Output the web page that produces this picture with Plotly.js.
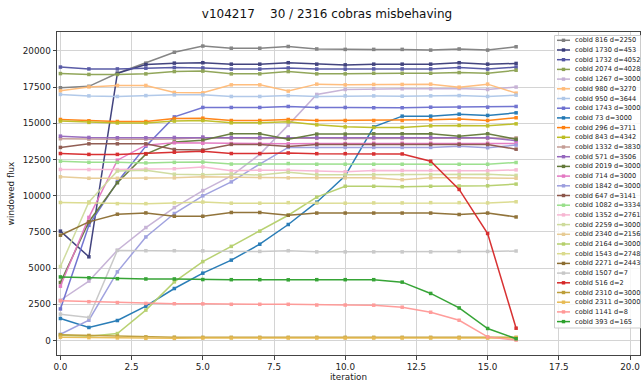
<!DOCTYPE html>
<html><head><meta charset="utf-8">
<script src="https://cdn.plot.ly/plotly-3.0.1.min.js"></script>
<style>body{margin:0;padding:0;background:#fff}#chart{width:643px;height:382px}</style>
</head><body><div id="chart"></div>
<script>
var iterations = [0,1,2,3,4,5,6,7,8,9,10,11,12,13,14,15,16];
var names = ["cobId 816 d=2250","cobId 1730 d=453","cobId 1732 d=4052","cobId 2074 d=4028","cobId 1267 d=3000","cobId 980 d=3270","cobId 950 d=3644","cobId 1743 d=3000","cobId 73 d=3000","cobId 296 d=3711","cobId 843 d=4342","cobId 1332 d=3830","cobId 571 d=3506","cobId 2019 d=3000","cobId 714 d=3000","cobId 1842 d=3000","cobId 647 d=3141","cobId 1082 d=3334","cobId 1352 d=2761","cobId 2259 d=3000","cobId 2340 d=2156","cobId 2164 d=3000","cobId 1543 d=2748","cobId 2271 d=2443","cobId 1507 d=7","cobId 516 d=2","cobId 2310 d=3000","cobId 2311 d=3000","cobId 1141 d=8","cobId 393 d=165"];
var colors = ["#7f7f7f","#393b79","#5254a3","#8ca252","#c5b0d5","#ffbb78","#aec7e8","#6b6ecf","#1f77b4","#ff7f0e","#bcbd22","#c49c94","#9467bd","#637939","#e377c2","#9c9ede","#8c564b","#98df8a","#f7b6d2","#cedb9c","#e7cb94","#b5cf6b","#dbdb8d","#8c6d31","#c7c7c7","#d62728","#bd9e39","#e7ba52","#ff9896","#2ca02c"];

var f816  = [17450,17550,18450,19150,19900,20330,20180,20180,20300,20130,20100,20100,20100,20050,20130,20050,20280];
var f1730 = [7550,5780,18450,19050,19150,19180,19080,19080,19180,19080,19030,19080,19080,19080,19180,19080,19130];
var f1732 = [18880,18750,18750,18800,18850,18820,18740,18740,18820,18740,18740,18750,18750,18750,18850,18740,18880];
var f2074 = [18430,18370,18370,18410,18570,18600,18410,18410,18570,18410,18410,18450,18450,18450,18500,18450,18660];
var f1267 = [2780,4100,6230,7800,9180,10350,11370,12850,14870,16990,17330,17380,17380,17380,17400,17330,17500];
var f980  = [17240,17510,17610,17610,17130,17100,17650,17650,17220,17700,17650,17680,17680,17700,17490,17700,17080];
var f950  = [16990,16890,16850,16910,16960,16960,16850,16850,16910,16850,16890,16890,16870,16890,16910,16850,16940];
var f1743 = [2180,7950,10950,13420,15440,16090,16090,16090,16160,16090,16090,16070,16070,16110,16110,16110,16160];
var f73   = [1520,900,1380,2370,3590,4650,5550,6650,8010,9550,11370,14750,15490,15490,15630,15540,15720];
var f296  = [15260,15170,15120,15120,15330,15350,15190,15190,15260,15190,15190,15190,15190,15240,15290,15190,15380];
var f843  = [15150,15060,15020,15020,15150,15190,15030,15030,15100,14890,14750,14710,14710,14820,14850,14820,14960];
var f1332 = [13930,13900,13900,13900,13920,14000,13950,13950,13980,13950,13950,13950,13950,13950,13950,13950,13990];
var f571  = [14110,14020,14000,14000,14020,14050,14000,14000,14050,14000,14000,14000,14000,14020,14020,14000,13800];
var f2019 = [4000,8200,10890,12870,13700,13830,14270,14270,13900,14250,14250,14270,14270,14270,14110,14270,13900];
var f714  = [3750,8500,12450,13490,13650,13620,13600,13600,13580,13600,13600,13620,13620,13620,13600,13620,13600];
var f1842 = [430,1400,4740,7150,8770,9990,10950,12180,13330,13330,13330,13330,13330,13330,13420,13310,13490];
var f647  = [13330,13580,13580,13580,13190,13150,13540,13540,13400,13540,13540,13540,13540,13540,13540,13540,13210];
var f1082 = [12380,12300,12300,12260,12300,12320,12180,12180,12220,12170,12170,12170,12170,12170,12170,12170,12290];
var f1352 = [11810,11800,11800,11840,11860,11980,11720,11760,11760,11700,11650,11740,11740,11740,11700,11720,11780];
var f2259 = [5110,9570,11700,11750,11480,11450,11500,11420,11620,11450,11450,11450,11450,11450,11450,11480,11400];
var f2340 = [11300,11200,11200,11200,11230,11300,11250,11250,11230,11230,11230,11230,11100,11230,11230,11200,11200];
var f2164 = [370,300,480,2100,4050,5450,6500,7550,8650,9900,10650,10650,10620,10650,10670,10680,10800];
var f1543 = [9530,9500,9450,9450,9500,9560,9480,9480,9520,9480,9480,9500,9500,9520,9520,9500,9580];
var f2271 = [7270,8190,8720,8810,8580,8580,8840,8840,8650,8800,8800,8800,8800,8800,8700,8800,8530];
var f1507 = [1820,1590,6220,6200,6200,6190,6120,6150,6200,6120,6120,6120,6120,6120,6150,6150,6180];
var f516  = [12910,12850,12850,12900,13000,13070,12910,12910,12950,12900,12900,12880,12880,12380,10430,7390,850];
var f2310 = [400,350,300,250,230,220,220,220,220,220,220,220,220,220,220,220,220];
var f2311 = [230,200,180,150,150,170,170,170,170,170,170,170,170,170,170,170,170];
var f1141 = [2740,2680,2620,2560,2540,2530,2500,2500,2500,2450,2450,2440,2300,1950,1400,250,30];
var f393  = [4390,4330,4270,4250,4250,4210,4200,4200,4190,4200,4200,4200,4030,3250,2250,830,120];

var series = [f816,f1730,f1732,f2074,f1267,f980,f950,f1743,f73,f296,f843,f1332,f571,f2019,f714,f1842,f647,f1082,f1352,f2259,f2340,f2164,f1543,f2271,f1507,f516,f2310,f2311,f1141,f393];
var xTicks = [0,2.5,5,7.5,10,12.5,15,17.5,20];
var xTickText = ["0.0","2.5","5.0","7.5","10.0","12.5","15.0","17.5","20.0"];
var yTicks = [0,2500,5000,7500,10000,12500,15000,17500,20000];
var yTickText = ["0","2500","5000","7500","10000","12500","15000","17500","20000"];

var W = 643, H = 382, L = 57, R = 3, T = 32, B = 27;
var pw = W - L - R, ph = H - T - B;
function px(x){ return (x - L) / pw; }
function py(y){ return (H - B - y) / ph; }

var traces = series.map(function(s, i){
  return {x: iterations, y: s, type: 'scatter', mode: 'lines+markers', name: names[i],
    line: {color: colors[i], width: 1.5}, marker: {color: colors[i], size: 3.5, symbol: 'square'},
    opacity: 0.95, showlegend: false, hoverinfo: 'skip'};
});

var shapes = [], annotations = [];
// legend box
shapes.push({type: 'rect', xref: 'paper', yref: 'paper', x0: px(554.5), x1: px(640.5), y0: py(328), y1: py(35.5),
  fillcolor: 'rgba(255,255,255,0.8)', line: {color: '#cccccc', width: 1}, layer: 'above'});
for (var i = 0; i < names.length; i++) {
  var yc = 40.3 + i * 9.7;
  shapes.push({type: 'line', xref: 'paper', yref: 'paper', x0: px(557), x1: px(570), y0: py(yc), y1: py(yc),
    line: {color: colors[i], width: 1.5}, layer: 'above'});
  shapes.push({type: 'rect', xref: 'paper', yref: 'paper', x0: px(561.8), x1: px(565.2), y0: py(yc + 1.7), y1: py(yc - 1.7),
    fillcolor: colors[i], line: {width: 0}, layer: 'above'});
  annotations.push({xref: 'paper', yref: 'paper', x: px(573.5), y: py(yc), xanchor: 'left', yanchor: 'middle',
    text: names[i], showarrow: false, borderpad: 0, font: {family: 'DejaVu Sans', size: 6.6, color: '#222'}});
}

var layout = {
  width: W, height: H,
  margin: {l: L, r: R, t: T, b: B, pad: 0},
  paper_bgcolor: '#fff', plot_bgcolor: '#fff',
  font: {family: 'DejaVu Sans', size: 8.8, color: '#222'},
  title: {text: 'v104217    30 / 2316 cobras misbehaving', x: 327 / 643, xref: 'container', xanchor: 'center', y: 0.965, yref: 'container', yanchor: 'middle',
    font: {family: 'DejaVu Sans', size: 12, color: '#111'}},
  xaxis: {range: [-0.12, 20.35], tickvals: xTicks, ticktext: xTickText, showgrid: true, gridcolor: '#d4d4d4', gridwidth: 1,
    zeroline: false, showline: true, mirror: true, linecolor: '#444', linewidth: 1, ticks: 'outside', ticklen: 3.5, tickcolor: '#444',
    title: {text: 'iteration', font: {size: 8.8}, standoff: 4}, automargin: false},
  yaxis: {range: [-1000, 21300], tickvals: yTicks, ticktext: yTickText, showgrid: true, gridcolor: '#d4d4d4', gridwidth: 1,
    zeroline: false, showline: true, mirror: true, linecolor: '#444', linewidth: 1, ticks: 'outside', ticklen: 3.5, tickcolor: '#444',
    title: {text: 'windowed flux', font: {size: 8.8}, standoff: 6}, automargin: false},
  shapes: shapes, annotations: annotations, showlegend: false
};
Plotly.newPlot('chart', traces, layout, {staticPlot: true, displayModeBar: false});
</script></body></html>
